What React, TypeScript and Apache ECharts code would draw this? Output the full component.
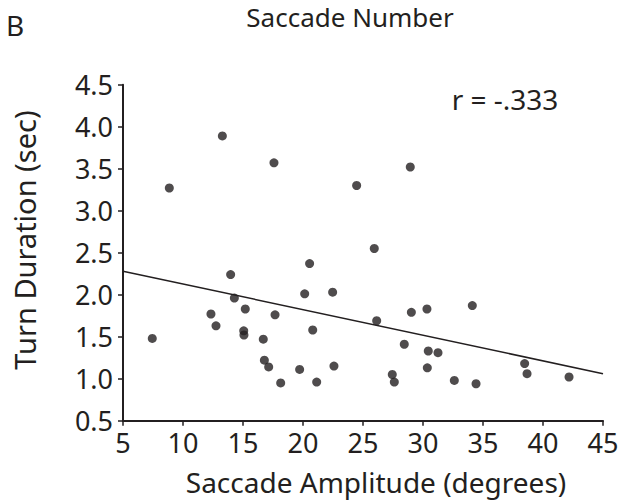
import React, { useEffect, useRef } from "react";
import * as echarts from "echarts";

const amplitude = [
  7.44, 8.86, 12.33, 12.75, 13.28, 13.97, 14.28, 15.06, 15.08, 15.19, 16.69,
  16.78, 17.14, 17.58, 17.67, 18.14, 19.72, 20.14, 20.55, 20.81, 21.14, 22.47,
  22.58, 24.47, 25.94, 26.14, 27.44, 27.61, 28.44, 28.94, 29.03, 30.33, 30.36,
  30.44, 31.25, 32.61, 34.11, 34.42, 38.47, 38.67, 42.17,
];
const duration = [
  1.48, 3.27, 1.77, 1.63, 3.89, 2.24, 1.96, 1.57, 1.52, 1.83, 1.47, 1.22, 1.14,
  3.57, 1.76, 0.95, 1.11, 2.01, 2.37, 1.58, 0.96, 2.03, 1.15, 3.3, 2.55, 1.69,
  1.05, 0.96, 1.41, 3.52, 1.79, 1.83, 1.13, 1.33, 1.31, 0.98, 1.87, 0.94, 1.18,
  1.06, 1.02,
];
const fitX = [5, 45];
const fitY = [2.28, 1.06];
const xTicks = [5, 10, 15, 20, 25, 30, 35, 40, 45];
const yTicks = [0.5, 1.0, 1.5, 2.0, 2.5, 3.0, 3.5, 4.0, 4.5];

const FONT = "'Noto Sans', sans-serif";
const INK = "#231f20";

export default function App() {
  const ref = useRef<HTMLDivElement>(null);
  useEffect(() => {
    document.body.style.margin = "0";
    if (!ref.current) return;
    const chart = echarts.init(ref.current, null, { renderer: "svg" });
    chart.setOption({
      animation: false,
      backgroundColor: "#ffffff",
      textStyle: { fontFamily: FONT, color: INK },
      graphic: [
        {
          type: "text",
          x: 350,
          y: 17,
          style: {
            text: "Saccade Number",
            fontSize: 26,
            fill: INK,
            fontFamily: FONT,
            align: "center",
            verticalAlign: "middle",
          },
        },
        {
          type: "text",
          x: 6,
          y: 25,
          style: {
            text: "B",
            fontSize: 28,
            fill: INK,
            fontFamily: FONT,
            align: "left",
            verticalAlign: "middle",
          },
        },
        {
          type: "text",
          x: 505,
          y: 99,
          style: {
            text: "r = -.333",
            fontSize: 28,
            fill: INK,
            fontFamily: FONT,
            align: "center",
            verticalAlign: "middle",
          },
        },
        {
          type: "text",
          x: 376,
          y: 482,
          style: {
            text: "Saccade Amplitude (degrees)",
            fontSize: 28,
            fill: INK,
            fontFamily: FONT,
            align: "center",
            verticalAlign: "middle",
          },
        },
        {
          type: "text",
          x: 24,
          y: 240,
          rotation: Math.PI / 2,
          style: {
            text: "Turn Duration (sec)",
            fontSize: 29,
            fill: INK,
            fontFamily: FONT,
            align: "center",
            verticalAlign: "middle",
          },
        },
      ],
      grid: { left: 123, right: 25, top: 84.7, bottom: 79.3, containLabel: false },
      xAxis: {
        type: "value",
        min: xTicks[0],
        max: xTicks[xTicks.length - 1],
        interval: 5,
        axisLine: { show: true, lineStyle: { color: INK, width: 2 } },
        axisTick: { show: true, length: 5, lineStyle: { color: INK, width: 1.5 } },
        axisLabel: { fontSize: 27, color: INK, margin: 8, fontFamily: FONT },
        splitLine: { show: false },
      },
      yAxis: {
        type: "value",
        min: yTicks[0],
        max: yTicks[yTicks.length - 1],
        interval: 0.5,
        axisLine: { show: true, lineStyle: { color: INK, width: 2 } },
        axisTick: { show: true, length: 5, lineStyle: { color: INK, width: 1.5 } },
        axisLabel: {
          fontSize: 27,
          color: INK,
          margin: 10,
          fontFamily: FONT,
          formatter: (v: number) => v.toFixed(1),
        },
        splitLine: { show: false },
      },
      series: [
        {
          type: "scatter",
          data: amplitude.map((x, i) => [x, duration[i]]),
          symbol: "circle",
          symbolSize: 9,
          itemStyle: { color: INK },
        },
        {
          type: "line",
          data: fitX.map((x, i) => [x, fitY[i]]),
          symbol: "none",
          lineStyle: { color: INK, width: 1.5 },
          silent: true,
        },
      ],
    });
    return () => chart.dispose();
  }, []);
  return <div ref={ref} style={{ width: 628, height: 500 }} />;
}
